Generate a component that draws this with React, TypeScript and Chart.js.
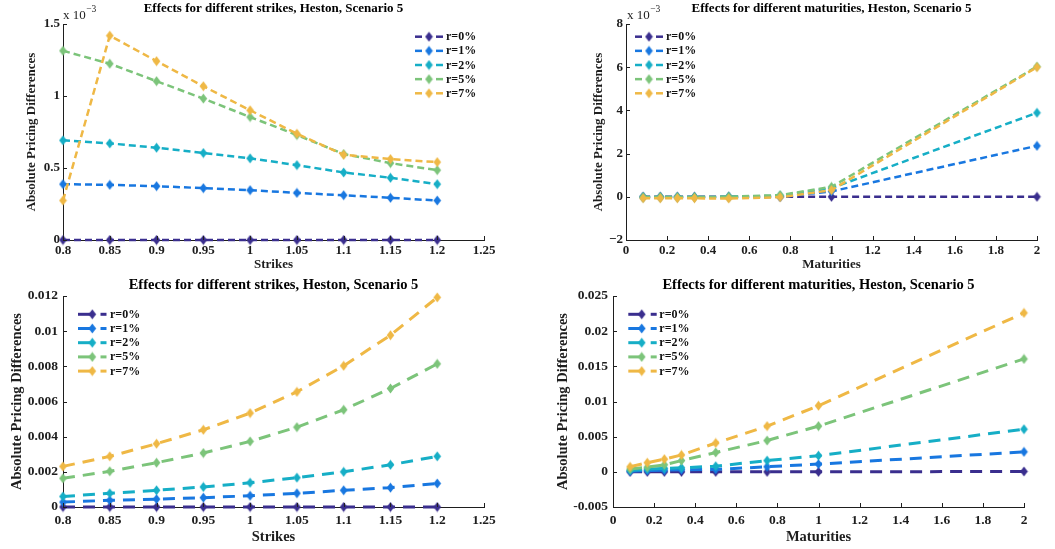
import React, { useEffect, useRef } from "react";
import { Chart, registerables } from "chart.js";

Chart.register(...registerables);

// ---------- data ----------
const SERIES_LABELS = ["r=0%", "r=1%", "r=2%", "r=5%", "r=7%"];
const SERIES_COLORS = ["#3a2e8e", "#1877e0", "#16aec6", "#7cc47a", "#efb845"];

const STRIKES = [0.8, 0.85, 0.9, 0.95, 1, 1.05, 1.1, 1.15, 1.2];
const MATURITIES = [0.0833, 0.1667, 0.25, 0.3333, 0.5, 0.75, 1, 2];

// Top-left: strikes, values in units of 10^-3
const TL_R0 = [0, 0, 0, 0, 0, 0, 0, 0, 0];
const TL_R1 = [0.388, 0.383, 0.374, 0.36, 0.346, 0.327, 0.311, 0.293, 0.274];
const TL_R2 = [0.692, 0.671, 0.641, 0.604, 0.567, 0.52, 0.469, 0.432, 0.388];
const TL_R5 = [1.314, 1.224, 1.103, 0.982, 0.854, 0.729, 0.597, 0.534, 0.485];
const TL_R7 = [0.274, 1.419, 1.242, 1.068, 0.901, 0.738, 0.592, 0.562, 0.541];

// Top-right: maturities, values in units of 10^-3
const TR_R0 = [0, 0, 0, 0, 0, 0, 0, 0];
const TR_R1 = [-0.02, -0.02, -0.02, -0.02, -0.02, 0, 0.25, 2.36];
const TR_R2 = [-0.01, -0.01, -0.01, -0.01, 0, 0.05, 0.4, 3.89];
const TR_R5 = [-0.01, -0.01, -0.01, -0.01, 0, 0.08, 0.46, 6.03];
const TR_R7 = [-0.07, -0.07, -0.07, -0.07, -0.08, -0.02, 0.31, 6.0];

// Bottom-left: strikes
const BL_R0 = [0, 0, 0, 0, 0, 0, 0, 0, 0];
const BL_R1 = [0.00028, 0.00038, 0.00045, 0.00053, 0.00064, 0.00078, 0.00095, 0.0011, 0.00134];
const BL_R2 = [0.0006, 0.00078, 0.00095, 0.00114, 0.00138, 0.00167, 0.002, 0.0024, 0.00288];
const BL_R5 = [0.00163, 0.00203, 0.00252, 0.00307, 0.00373, 0.00454, 0.00553, 0.00674, 0.00814];
const BL_R7 = [0.00231, 0.00288, 0.0036, 0.00439, 0.00534, 0.00655, 0.00803, 0.00977, 0.01192];

// Bottom-right: maturities
const BR_R0 = [0, 0, 0, 0, 0, 0, 0, 0.00005];
const BR_R1 = [0.0001, 0.0002, 0.00024, 0.0003, 0.00035, 0.00072, 0.0011, 0.00284];
const BR_R2 = [0.0002, 0.0004, 0.0005, 0.00057, 0.0008, 0.0016, 0.0023, 0.00606];
const BR_R5 = [0.0004, 0.00066, 0.001, 0.0016, 0.00275, 0.00445, 0.0065, 0.01605];
const BR_R7 = [0.00072, 0.0013, 0.0018, 0.0024, 0.0041, 0.0065, 0.0094, 0.0226];

const TITLE_STRIKES = "Effects for different strikes, Heston, Scenario 5";
const TITLE_MATURITIES = "Effects for different maturities, Heston, Scenario 5";
const Y_TITLE = "Absolute Pricing Differences";

// ---------- styling ----------
const FONT = '"Liberation Serif", "Times New Roman", serif';
const AXIS = "#1e1e1e";

function fmt(v: number) {
  return String(Number(v.toFixed(4)));
}
function fmtMinus(v: number) {
  const s = fmt(v);
  return v < 0 ? "\u2212" + s.slice(1) : s;
}

function makeMarker(color: string) {
  const c = document.createElement("canvas");
  c.width = 9;
  c.height = 11;
  const g = c.getContext("2d")!;
  g.fillStyle = color;
  g.beginPath();
  g.moveTo(4.5, 0.5);
  g.lineTo(8.3, 5.5);
  g.lineTo(4.5, 10.5);
  g.lineTo(0.7, 5.5);
  g.closePath();
  g.fill();
  return c;
}

const decor = {
  id: "decor",
  afterDraw(chart: any, _args: any, opts: any) {
    const ctx = chart.ctx as CanvasRenderingContext2D;
    const ca = chart.chartArea;
    ctx.save();
    // inward tick marks
    ctx.strokeStyle = AXIS;
    ctx.lineWidth = 1;
    ctx.setLineDash([]);
    const xs = chart.scales.x;
    const ys = chart.scales.y;
    xs.ticks.forEach((t: any) => {
      const px = Math.round(xs.getPixelForValue(t.value)) + 0.5;
      ctx.beginPath();
      ctx.moveTo(px, ca.bottom);
      ctx.lineTo(px, ca.bottom - opts.tickLen);
      ctx.stroke();
    });
    ys.ticks.forEach((t: any) => {
      const py = Math.round(ys.getPixelForValue(t.value)) + 0.5;
      ctx.beginPath();
      ctx.moveTo(ca.left, py);
      ctx.lineTo(ca.left + opts.tickLen, py);
      ctx.stroke();
    });
    // title
    ctx.fillStyle = "#000";
    ctx.font = `bold ${opts.titleSize}px ${FONT}`;
    ctx.textAlign = "center";
    ctx.textBaseline = "middle";
    ctx.fillText(opts.title, (ca.left + ca.right) / 2, opts.titleY);
    // exponent
    if (opts.exponent) {
      const e = opts.exponent;
      ctx.textAlign = "left";
      ctx.textBaseline = "alphabetic";
      ctx.fillStyle = AXIS;
      ctx.font = `13px ${FONT}`;
      ctx.fillText("x 10", e.x, e.y);
      const w = ctx.measureText("x 10").width;
      ctx.font = `9.5px ${FONT}`;
      ctx.fillText("\u22123", e.x + w + 0.5, e.y - 7.5);
    }
    // legend
    const lg = opts.legend;
    ctx.font = `bold 12px ${FONT}`;
    ctx.textAlign = "left";
    ctx.textBaseline = "middle";
    SERIES_LABELS.forEach((label, i) => {
      const y = lg.y + i * lg.dy;
      ctx.strokeStyle = SERIES_COLORS[i];
      ctx.lineWidth = lg.lineWidth;
      lg.segments.forEach((s: number[]) => {
        ctx.beginPath();
        ctx.moveTo(lg.x + s[0], y);
        ctx.lineTo(lg.x + s[1], y);
        ctx.stroke();
      });
      const m = opts.markers[i];
      ctx.drawImage(m, lg.x + lg.markerX - m.width / 2, y - m.height / 2);
      ctx.fillStyle = "#111";
      ctx.fillText(label, lg.x + lg.textX, y + 0.5);
    });
    ctx.restore();
  },
};

type PanelSpec = {
  left: number;
  top: number;
  width: number;
  height: number;
  xs: number[];
  series: number[][];
  xMin: number;
  xMax: number;
  xStep: number;
  yMin: number;
  yMax: number;
  yStep: number;
  yFmt: (v: number) => string;
  title: string;
  xTitle: string;
  chartLeft: number;
  chartRight: number;
  chartTop: number;
  chartBottom: number;
  titleY: number;
  titleSize: number;
  tickSize: number;
  axisTitleSize: number;
  yTitleCenter: number;
  xTitleCenter: number;
  xTickPad: number;
  yTickPad: number;
  lineWidth: number;
  dash: number[];
  exponent: { x: number; y: number } | null;
  legend: any;
};

const PANELS: PanelSpec[] = [
  {
    left: 0, top: 0, width: 527, height: 272,
    xs: STRIKES, series: [TL_R0, TL_R1, TL_R2, TL_R5, TL_R7],
    xMin: 0.8, xMax: 1.25, xStep: 0.05,
    yMin: 0, yMax: 1.5, yStep: 0.5, yFmt: fmt,
    title: TITLE_STRIKES, xTitle: "Strikes",
    chartLeft: 63, chartRight: 484, chartTop: 24, chartBottom: 240,
    titleY: 9, titleSize: 13, tickSize: 13, axisTitleSize: 13,
    yTitleCenter: 32, xTitleCenter: 265,
    xTickPad: 3, yTickPad: 3,
    lineWidth: 2.5, dash: [7, 4],
    exponent: { x: 63, y: 19 },
    legend: { x: 0, y: 36.7, dy: 14.15, lineWidth: 2.5, segments: [[415, 422], [436, 443]], markerX: 429, textX: 446 },
  },
  {
    left: 527, top: 0, width: 528, height: 272,
    xs: MATURITIES, series: [TR_R0, TR_R1, TR_R2, TR_R5, TR_R7],
    xMin: 0, xMax: 2, xStep: 0.2,
    yMin: -2, yMax: 8, yStep: 2, yFmt: fmtMinus,
    title: TITLE_MATURITIES, xTitle: "Maturities",
    chartLeft: 99, chartRight: 510, chartTop: 24, chartBottom: 240,
    titleY: 9, titleSize: 13, tickSize: 13, axisTitleSize: 13,
    yTitleCenter: 72, xTitleCenter: 265,
    xTickPad: 3, yTickPad: 3,
    lineWidth: 2.5, dash: [7, 4],
    exponent: { x: 100, y: 19 },
    legend: { x: 0, y: 36.7, dy: 14.15, lineWidth: 2.5, segments: [[108, 115], [129, 136]], markerX: 122, textX: 139 },
  },
  {
    left: 0, top: 272, width: 527, height: 277,
    xs: STRIKES, series: [BL_R0, BL_R1, BL_R2, BL_R5, BL_R7],
    xMin: 0.8, xMax: 1.25, xStep: 0.05,
    yMin: 0, yMax: 0.012, yStep: 0.002, yFmt: fmt,
    title: TITLE_STRIKES, xTitle: "Strikes",
    chartLeft: 63, chartRight: 484, chartTop: 24, chartBottom: 235,
    titleY: 13, titleSize: 14.5, tickSize: 13.5, axisTitleSize: 14.5,
    yTitleCenter: 17, xTitleCenter: 265,
    xTickPad: 5, yTickPad: 5,
    lineWidth: 3, dash: [12, 8],
    exponent: null,
    legend: { x: 0, y: 42.3, dy: 14.2, lineWidth: 3, segments: [[78, 93], [100.5, 106.5]], markerX: 92.3, textX: 110 },
  },
  {
    left: 527, top: 272, width: 528, height: 277,
    xs: MATURITIES, series: [BR_R0, BR_R1, BR_R2, BR_R5, BR_R7],
    xMin: 0, xMax: 2, xStep: 0.2,
    yMin: -0.005, yMax: 0.025, yStep: 0.005, yFmt: fmt,
    title: TITLE_MATURITIES, xTitle: "Maturities",
    chartLeft: 86, chartRight: 497, chartTop: 24, chartBottom: 235,
    titleY: 13, titleSize: 14.5, tickSize: 13.5, axisTitleSize: 14.5,
    yTitleCenter: 36, xTitleCenter: 265,
    xTickPad: 5, yTickPad: 5,
    lineWidth: 3, dash: [12, 8],
    exponent: null,
    legend: { x: 0, y: 42.3, dy: 14.2, lineWidth: 3, segments: [[101.3, 115], [123.7, 129.7]], markerX: 114.7, textX: 132.3 },
  },
];

function buildConfig(p: PanelSpec, markers: HTMLCanvasElement[]): any {
  const axisLH = p.axisTitleSize * 1.2;
  return {
    type: "line",
    data: {
      datasets: p.series.map((ys, i) => ({
        label: SERIES_LABELS[i],
        data: p.xs.map((x, j) => ({ x, y: ys[j] })),
        borderColor: SERIES_COLORS[i],
        backgroundColor: SERIES_COLORS[i],
        borderWidth: p.lineWidth,
        borderDash: p.dash,
        pointStyle: markers[i],
        pointRadius: 4,
        pointHoverRadius: 4,
        tension: 0,
        fill: false,
        clip: false,
        order: 4 - i,
      })),
    },
    options: {
      animation: false,
      responsive: false,
      events: [],
      layout: {
        padding: { left: 0, right: p.width - p.chartRight, top: p.chartTop, bottom: 0 },
      },
      plugins: {
        legend: { display: false },
        tooltip: { enabled: false },
        title: { display: false },
        decor: {
          title: p.title,
          titleY: p.titleY,
          titleSize: p.titleSize,
          tickLen: 4,
          exponent: p.exponent,
          legend: p.legend,
          markers,
        },
      },
      scales: {
        x: {
          type: "linear",
          min: p.xMin,
          max: p.xMax,
          afterFit: (s: any) => {
            s.height = p.height - p.chartBottom;
          },
          grid: { display: false, drawTicks: false },
          border: { display: true, color: AXIS, width: 1 },
          ticks: {
            stepSize: p.xStep,
            autoSkip: false,
            maxRotation: 0,
            padding: p.xTickPad,
            color: AXIS,
            font: { family: FONT, size: p.tickSize, weight: "bold" },
            callback: (v: any) => fmt(Number(v)),
          },
          title: {
            display: true,
            text: p.xTitle,
            color: AXIS,
            font: { family: FONT, size: p.axisTitleSize, weight: "bold" },
            padding: { top: 0, bottom: p.height - p.xTitleCenter - axisLH / 2 },
          },
        },
        y: {
          type: "linear",
          min: p.yMin,
          max: p.yMax,
          afterFit: (s: any) => {
            s.width = p.chartLeft;
          },
          grid: { display: false, drawTicks: false },
          border: { display: true, color: AXIS, width: 1 },
          ticks: {
            stepSize: p.yStep,
            padding: p.yTickPad,
            color: AXIS,
            font: { family: FONT, size: p.tickSize, weight: "bold" },
            callback: (v: any) => p.yFmt(Number(v)),
          },
          title: {
            display: true,
            text: Y_TITLE,
            color: AXIS,
            font: { family: FONT, size: p.axisTitleSize, weight: "bold" },
            padding: { top: p.yTitleCenter - axisLH / 2, bottom: 0 },
          },
        },
      },
    },
    plugins: [decor],
  };
}

function Panel({ spec }: { spec: PanelSpec }) {
  const ref = useRef<HTMLCanvasElement | null>(null);
  useEffect(() => {
    if (!ref.current) return;
    const markers = SERIES_COLORS.map(makeMarker);
    const chart = new Chart(ref.current, buildConfig(spec, markers));
    return () => chart.destroy();
  }, [spec]);
  return (
    <canvas
      ref={ref}
      width={spec.width}
      height={spec.height}
      style={{
        position: "absolute",
        left: spec.left,
        top: spec.top,
        width: spec.width,
        height: spec.height,
      }}
    />
  );
}

export default function App() {
  return (
    <div
      style={{
        position: "absolute",
        left: 0,
        top: 0,
        width: 1055,
        height: 549,
        background: "#fff",
        overflow: "hidden",
      }}
    >
      {PANELS.map((p, i) => (
        <Panel key={i} spec={p} />
      ))}
    </div>
  );
}
